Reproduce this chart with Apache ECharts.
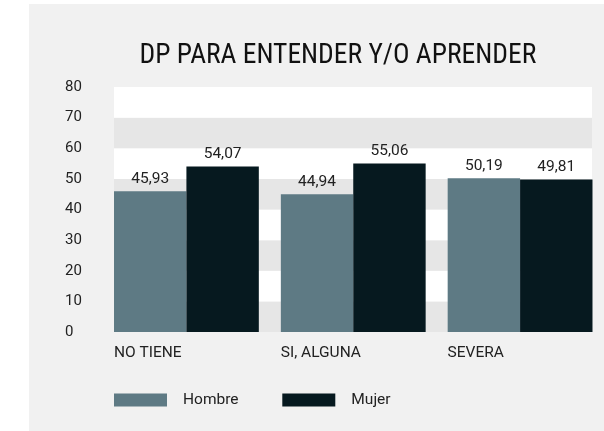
<!DOCTYPE html>
<html>
<head>
<meta charset="utf-8">
<script src="https://cdn.jsdelivr.net/npm/echarts@6/dist/echarts.min.js"></script>
<style>
  html, body { margin: 0; padding: 0; background: #ffffff; }
  #main { position: absolute; left: 29px; top: 4px; width: 575px; height: 427px; background: #f1f1f1; }
</style>
</head>
<body>
<div id="main"></div>
<script>
var categories = ['NO TIENE', 'SI, ALGUNA', 'SEVERA'];
var hombre = [45.93, 44.94, 50.19];
var mujer = [54.07, 55.06, 49.81];
var yTicks = [0, 10, 20, 30, 40, 50, 60, 70, 80];

var TITLE_FONT = "'Roboto Condensed', 'Liberation Sans Narrow', 'DejaVu Sans Condensed', Roboto, sans-serif";
var FONT = "Roboto, 'Liberation Sans', sans-serif";
var SMALL = 15.5;

function fmt(v) {
    return String(v.toFixed(2)).replace('.', ',');
}

var chart = echarts.init(document.getElementById('main'));
chart.setOption({
    animation: false,
    textStyle: { fontFamily: FONT },
    title: {
        text: 'DP PARA ENTENDER Y/O APRENDER',
        left: 105.5,
        top: 33,
        textStyle: { fontFamily: TITLE_FONT, fontSize: 27.5, fontWeight: 'normal', color: '#111' }
    },
    legend: [{
        data: ['Hombre'],
        left: 85,
        top: 388,
        padding: 0,
        itemWidth: 53,
        itemHeight: 13,
        icon: 'rect',
        textStyle: { fontFamily: FONT, fontSize: SMALL, color: '#222', padding: [0, 0, 0, 11] }
    }, {
        data: ['Mujer'],
        left: 253.3,
        top: 388,
        padding: 0,
        itemWidth: 53,
        itemHeight: 13,
        icon: 'rect',
        textStyle: { fontFamily: FONT, fontSize: SMALL, color: '#222', padding: [0, 0, 0, 11] }
    }],
    grid: [
        // background bands
        { left: 85, right: 12, top: 83, bottom: 99 },
        // bars
        { left: 74, right: 0.5, top: 83, bottom: 99 }
    ],
    xAxis: [{
        gridIndex: 0,
        type: 'value',
        show: false
    }, {
        gridIndex: 1,
        type: 'category',
        data: categories,
        axisLine: { show: false },
        axisTick: { show: false },
        axisLabel: {
            margin: 13,
            fontFamily: FONT,
            fontSize: SMALL,
            color: '#222',
            formatter: function (v) { return '{a|' + v + '}'; },
            rich: { a: { width: 145, align: 'left', fontFamily: FONT, fontSize: SMALL, color: '#222' } }
        }
    }],
    yAxis: [{
        gridIndex: 0,
        type: 'value',
        min: yTicks[0],
        max: yTicks[yTicks.length - 1],
        interval: 10,
        axisLine: { show: false },
        axisTick: { show: false },
        splitLine: { show: false },
        splitArea: { show: true, areaStyle: { color: ['#e6e6e6', '#ffffff'] } },
        axisLabel: { align: 'left', margin: 49, fontFamily: FONT, fontSize: 15, color: '#222' }
    }, {
        gridIndex: 1,
        type: 'value',
        min: yTicks[0],
        max: yTicks[yTicks.length - 1],
        interval: 10,
        show: false
    }],
    series: [{
        name: 'Hombre',
        type: 'bar',
        xAxisIndex: 1,
        yAxisIndex: 1,
        data: hombre,
        barGap: '0%',
        barCategoryGap: '13.2%',
        itemStyle: { color: '#5e7a84' },
        label: {
            show: true, position: 'top', distance: 4,
            fontFamily: FONT, fontSize: SMALL, color: '#222',
            formatter: function (p) { return fmt(p.value); }
        }
    }, {
        name: 'Mujer',
        type: 'bar',
        xAxisIndex: 1,
        yAxisIndex: 1,
        data: mujer,
        itemStyle: { color: '#06191f' },
        label: {
            show: true, position: 'top', distance: 4,
            fontFamily: FONT, fontSize: SMALL, color: '#222',
            formatter: function (p) { return fmt(p.value); }
        }
    }]
});
</script>
</body>
</html>
